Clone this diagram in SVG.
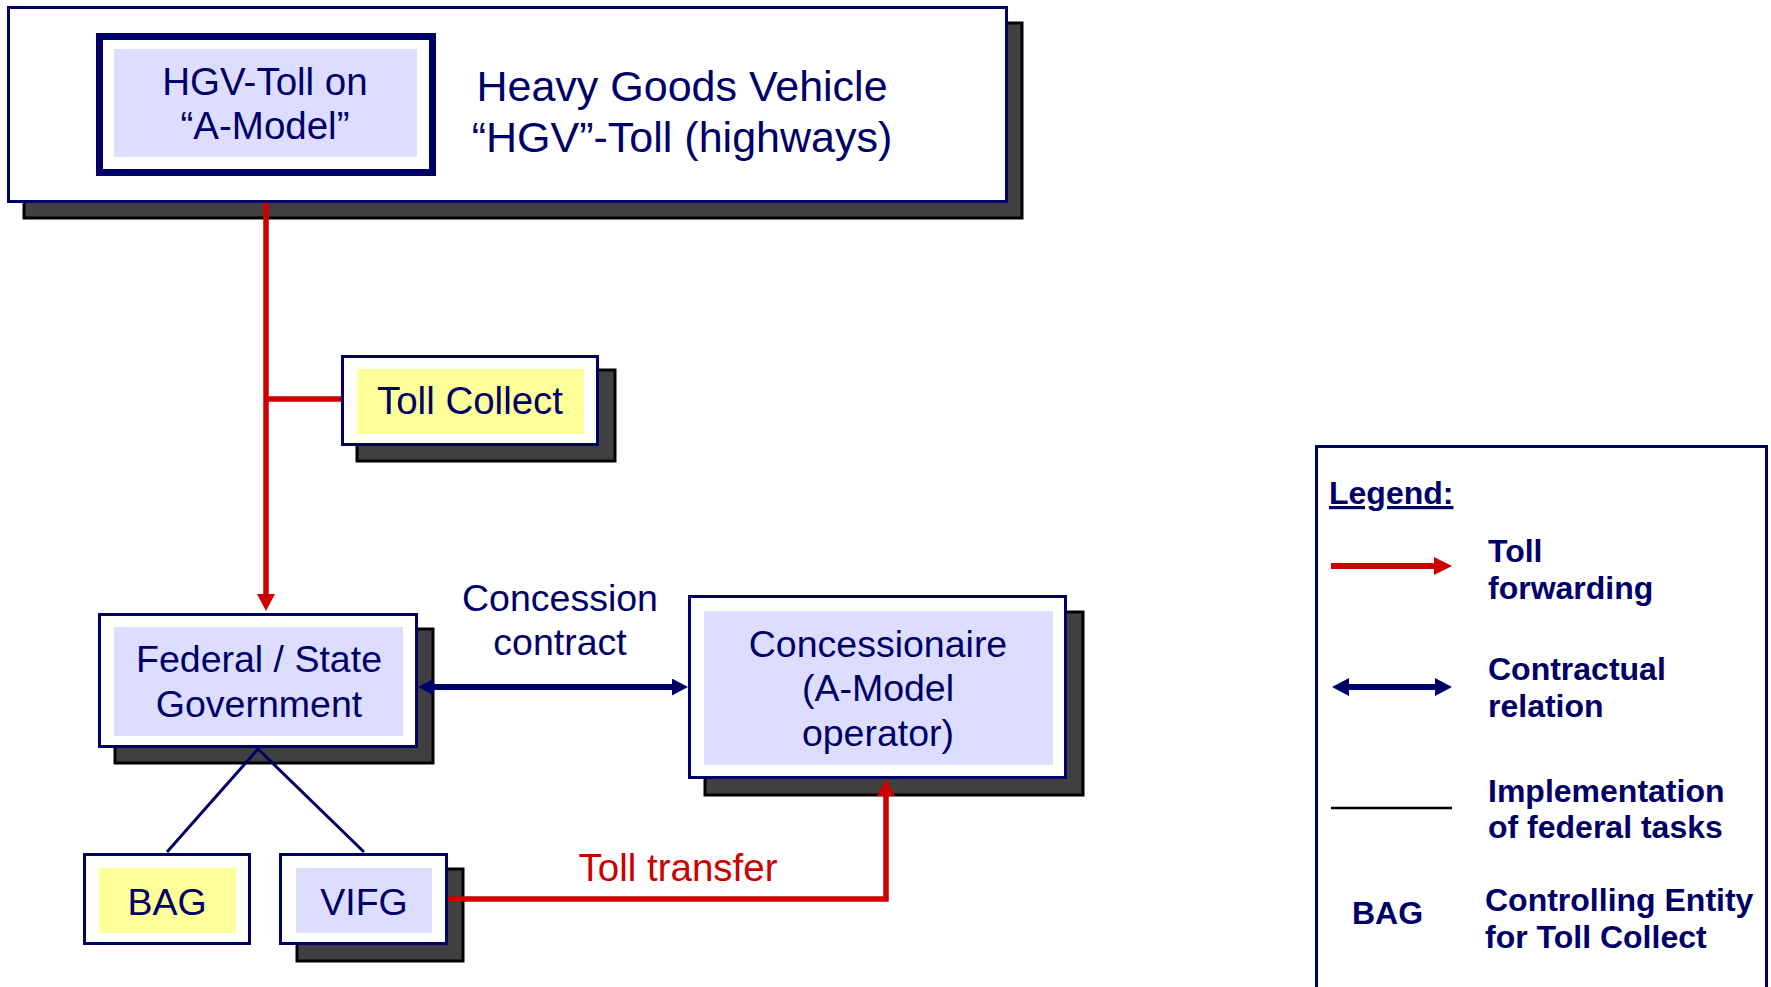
<svg xmlns="http://www.w3.org/2000/svg" width="1771" height="987" viewBox="0 0 1771 987">
<style>
.shadow{fill:#404040;stroke:#000;stroke-width:3}
.box{fill:#fff;stroke:#000066;stroke-width:3}
.lav{fill:#DDDDFF}
.yel{fill:#FFFF99}
.t{font-family:"Liberation Sans",Arial,sans-serif;fill:#000066;text-anchor:middle;font-size:37.5px}
.lg{font-family:"Liberation Sans",Arial,sans-serif;fill:#000066;font-weight:bold;font-size:32px}
.red{stroke:#CC0000;stroke-width:5.5;fill:none}
.navy{stroke:#000066;fill:none}
</style>
<defs>
<marker id="arR" markerUnits="userSpaceOnUse" markerWidth="18" markerHeight="18" refX="2" refY="9" orient="auto" viewBox="0 0 18 18">
<path d="M0,0 L17,9 L0,18 z" fill="#CC0000"/>
</marker>
<marker id="arB" markerUnits="userSpaceOnUse" markerWidth="17" markerHeight="17" refX="2" refY="8.5" orient="auto-start-reverse" viewBox="0 0 17 17">
<path d="M0,0 L16,8.5 L0,17 z" fill="#000066"/>
</marker>
</defs>

<g id="top">
<rect class="shadow" x="24" y="23" width="998" height="195"/>
<rect class="box" x="8.5" y="7.5" width="998" height="194"/>
<text class="t" x="682" y="101" style="font-size:43px">Heavy Goods Vehicle</text>
<text class="t" x="682" y="152" style="font-size:43px">“HGV”-Toll (highways)</text>
</g>

<g id="hgv">
<rect x="99.5" y="36.5" width="333" height="136" fill="#fff" stroke="#000066" stroke-width="7"/>
<rect class="lav" x="114" y="49" width="303" height="108"/>
<text class="t" x="265" y="95" style="font-size:38.5px">HGV-Toll on</text>
<text class="t" x="265" y="139" style="font-size:38.5px">“A-Model”</text>
</g>

<g id="tollcollect">
<rect class="shadow" x="357" y="370" width="258" height="91"/>
<rect class="box" x="342.5" y="356.5" width="255" height="88"/>
<rect class="yel" x="357" y="369" width="227" height="65"/>
<text class="t" x="470" y="414" style="font-size:38.5px">Toll Collect</text>
</g>

<g id="federal">
<rect class="shadow" x="115" y="629" width="318" height="134"/>
<rect class="box" x="99.5" y="614.5" width="317" height="132"/>
<rect class="lav" x="114" y="627" width="289" height="109"/>
<text class="t" x="259" y="672">Federal / State</text>
<text class="t" x="259" y="717">Government</text>
</g>

<g id="concessionaire">
<rect class="shadow" x="705" y="612" width="378" height="183"/>
<rect class="box" x="689.5" y="596.5" width="376" height="181"/>
<rect class="lav" x="704" y="611" width="349" height="154"/>
<text class="t" x="878" y="657">Concessionaire</text>
<text class="t" x="878" y="701">(A-Model</text>
<text class="t" x="878" y="746">operator)</text>
</g>

<g id="bag">
<rect class="box" x="84.5" y="854.5" width="165" height="89"/>
<rect class="yel" x="99" y="868" width="137" height="65"/>
<text class="t" x="167" y="915">BAG</text>
</g>

<g id="vifg">
<rect class="shadow" x="297" y="869" width="166" height="92"/>
<rect class="box" x="280.5" y="854.5" width="166" height="89"/>
<rect class="lav" x="296" y="868" width="136" height="65"/>
<text class="t" x="364" y="915">VIFG</text>
</g>

<g id="connectors">
<path class="red" d="M266,203 V596" marker-end="url(#arR)"/>
<path class="red" d="M266,399 H341"/>
<path class="red" d="M448,899 H886 V794" marker-end="url(#arR)"/>
<path class="navy" stroke-width="6" d="M432,687 H674" marker-start="url(#arB)" marker-end="url(#arB)"/>
<path class="navy" stroke-width="3" d="M167,852 L258,749 L364,852"/>
<text class="t" x="560" y="611">Concession</text>
<text class="t" x="560" y="655">contract</text>
<text class="t" x="678" y="881" style="fill:#CC0000;font-size:38.5px">Toll transfer</text>
</g>

<g id="legend">
<rect x="1316.5" y="446.5" width="450" height="600" fill="#fff" stroke="#000066" stroke-width="3"/>
<text class="lg" x="1329" y="504" text-decoration="underline">Legend:</text>
<path d="M1331,566 H1436" stroke="#CC0000" stroke-width="6" fill="none"/>
<path d="M1434,557 L1452,566 L1434,575 z" fill="#CC0000"/>
<text class="lg" x="1488" y="562">Toll</text>
<text class="lg" x="1488" y="599">forwarding</text>
<path d="M1346,687 H1438" stroke="#000066" stroke-width="6" fill="none"/>
<path d="M1332,687 L1349,678 L1349,696 z" fill="#000066"/>
<path d="M1452,687 L1435,678 L1435,696 z" fill="#000066"/>
<text class="lg" x="1488" y="680">Contractual</text>
<text class="lg" x="1488" y="717">relation</text>
<path d="M1331,808 H1452" stroke="#000" stroke-width="2.5" fill="none"/>
<text class="lg" x="1488" y="802">Implementation</text>
<text class="lg" x="1488" y="838">of federal tasks</text>
<text class="lg" x="1352" y="924">BAG</text>
<text class="lg" x="1485" y="911">Controlling Entity</text>
<text class="lg" x="1485" y="948">for Toll Collect</text>
</g>
</svg>
